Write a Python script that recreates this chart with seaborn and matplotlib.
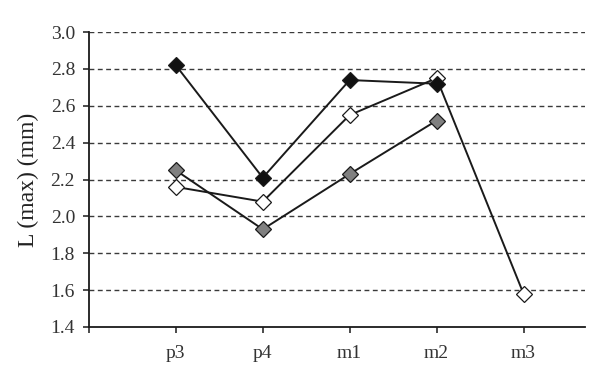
import numpy as np
import pandas as pd
import matplotlib
matplotlib.use('Agg')
import matplotlib.pyplot as plt
import seaborn as sns

# values
teeth = ['p3', 'p4', 'm1', 'm2', 'm3']
black_vals = [2.82, 2.21, 2.74, 2.72, np.nan]
white_vals = [2.16, 2.08, 2.55, 2.75, 1.58]
gray_vals = [2.25, 1.93, 2.23, 2.52, np.nan]
yticks = [1.4, 1.6, 1.8, 2.0, 2.2, 2.4, 2.6, 2.8, 3.0]

sns.set_style('white')
plt.rcParams['font.family'] = ['Liberation Serif', 'DejaVu Serif']

fig = plt.figure(figsize=(6.09, 3.78), dpi=100)
ax = fig.add_axes([0.146, 0.135, 0.815, 0.780])

pos = np.arange(len(teeth))

# gridlines first so markers sit on top
for y in yticks[1:]:
    ax.axhline(y, color='#3a3a3a', lw=1.0, ls=(0, (3.5, 2.5)), zorder=0)

series = [
    (white_vals, 'white'),
    (gray_vals, '#808080'),
    (black_vals, '#111111'),
]
for vals, fc in series:
    df = pd.DataFrame({'x': pos, 'y': vals}).dropna()
    sns.lineplot(data=df, x='x', y='y', ax=ax, color='#1a1a1a', lw=1.4,
                 marker='D', markersize=8.5, markerfacecolor=fc,
                 markeredgecolor='#1a1a1a', markeredgewidth=0.9, zorder=3)

ax.set_xlim(-1, 4.71)
ax.set_ylim(1.4, 3.0)
ax.set_xticks(list(pos) + [-1])
ax.set_xticklabels(teeth + [''])
ax.set_yticks(yticks)
ax.set_yticklabels([f'{v:.1f}' for v in yticks])
ax.set_xlabel('')
ax.set_ylabel('L (max) (mm)', fontsize=17, color='#222222', labelpad=8)

for s in ['top', 'right']:
    ax.spines[s].set_visible(False)
for s in ['left', 'bottom']:
    ax.spines[s].set_color('#1a1a1a')
    ax.spines[s].set_linewidth(1.3)

ax.tick_params(axis='both', direction='out', length=4, width=1.1,
               color='#1a1a1a', labelsize=14, labelcolor='#333333')
ax.tick_params(axis='y', left=True, pad=6)
ax.tick_params(axis='x', bottom=True, pad=9)

fig.savefig('out.png', dpi=100)
